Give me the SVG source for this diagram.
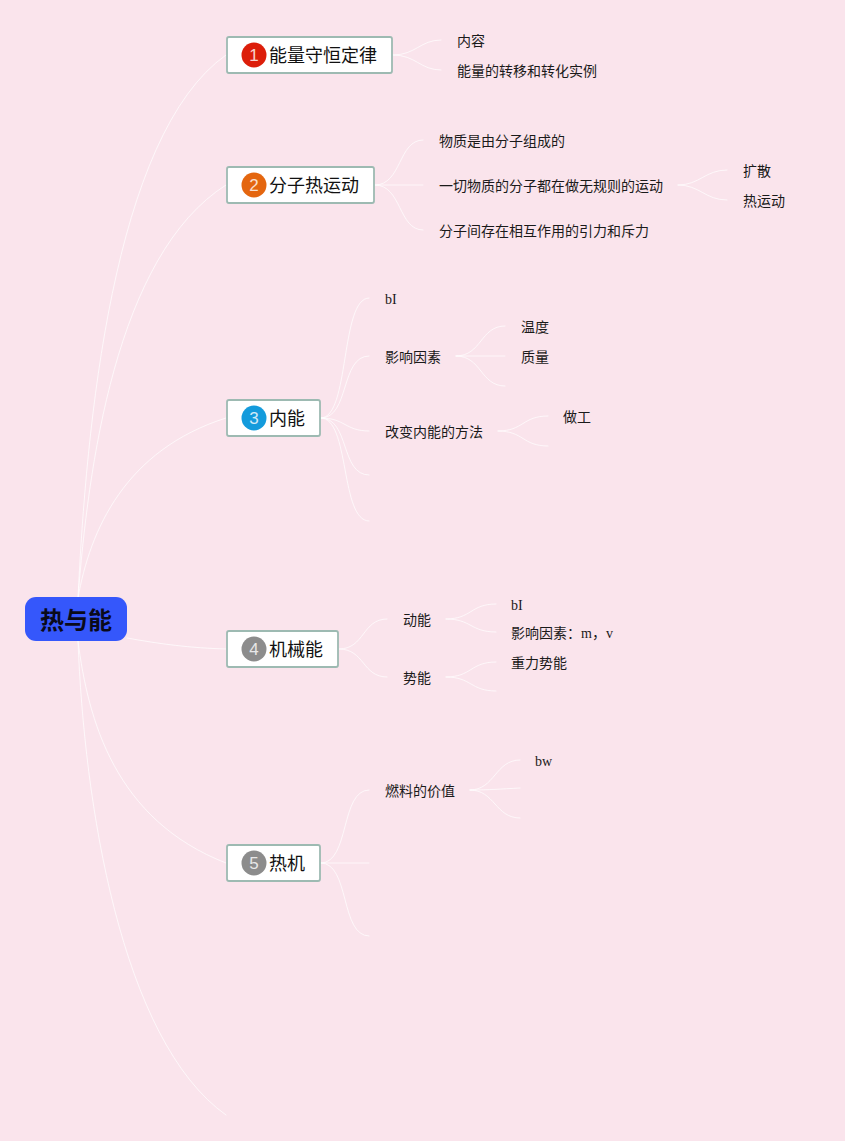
<svg xmlns="http://www.w3.org/2000/svg" width="845" height="1141" viewBox="0 0 845 1141">
<style>
.bg{fill:#fae4ec}
.c{fill:none;stroke:#fff;stroke-width:1;stroke-linecap:round;opacity:.7}
.box{fill:#fff;stroke:#9dbab2;stroke-width:1.8}
.t{font-family:"Liberation Serif","Noto Sans CJK SC",serif;font-size:14px;fill:#1a1a1a}
.m{font-family:"Liberation Sans","Noto Sans CJK SC",sans-serif;font-size:18px;fill:#111}
.n{font-family:"Liberation Sans","Noto Sans CJK SC",sans-serif;font-size:17px;fill:#fff;text-anchor:middle;opacity:.8}
.r{font-family:"Noto Sans CJK SC",sans-serif;font-size:24px;font-weight:700;fill:#0a0a1a;text-anchor:middle}
</style>
<rect class="bg" width="845" height="1141"/>
<g id="connectors">
<path class="c" d="M78 598C86 430 112 135 226 55"/>
<path class="c" d="M78 598C88 470 115 255 226 185"/>
<path class="c" d="M78 598C90 530 125 450 226 418"/>
<path class="c" d="M127 638C160 644 190 648 226 649"/>
<path class="c" d="M78 641C88 720 115 820 226 863"/>
<path class="c" d="M78 641C84 800 120 1040 226 1115"/>
<path class="c" d="M393 55C416 55 420 40 441 40"/>
<path class="c" d="M393 55C416 55 420 70 441 70"/>
<path class="c" d="M375 185C402 185 398 140 423 140"/>
<path class="c" d="M375 185H423"/>
<path class="c" d="M375 185C402 185 398 230 423 230"/>
<path class="c" d="M678 185C700 185 705 170 727 170"/>
<path class="c" d="M678 185C700 185 705 200 727 200"/>
<path class="c" d="M321 418C350 418 340 298 369 298"/>
<path class="c" d="M321 418C350 418 340 356 369 356"/>
<path class="c" d="M321 418C345 418 345 431 369 431"/>
<path class="c" d="M321 418C350 418 340 475 369 475"/>
<path class="c" d="M321 418C350 418 340 521 369 521"/>
<path class="c" d="M456 356C482 356 480 326 505 326"/>
<path class="c" d="M456 356H505"/>
<path class="c" d="M456 356C482 356 480 386 505 386"/>
<path class="c" d="M498 431C524 431 522 416 548 416"/>
<path class="c" d="M498 431C524 431 522 446 548 446"/>
<path class="c" d="M339 649C365 649 362 619 387 619"/>
<path class="c" d="M339 649C365 649 362 677 387 677"/>
<path class="c" d="M446 619C472 619 470 604 496 604"/>
<path class="c" d="M446 619C472 619 470 632 496 632"/>
<path class="c" d="M446 677C472 677 470 662 496 662"/>
<path class="c" d="M446 677C472 677 470 691 496 691"/>
<path class="c" d="M321 863C350 863 340 790 369 790"/>
<path class="c" d="M321 863H369"/>
<path class="c" d="M321 863C350 863 340 936 369 936"/>
<path class="c" d="M470 790C495 790 495 760 520 760"/>
<path class="c" d="M470 790C490 790 500 789 520 788"/>
<path class="c" d="M470 790C495 790 495 818 520 818"/>
</g>
<g id="root"><rect x="25" y="597" width="102" height="44" rx="11" fill="#3557fb"/><text class="r" x="76" y="629">热与能</text></g>
<g id="n1"><rect class="box" x="227" y="37" width="165" height="36" rx="2"/><circle cx="254" cy="55" r="12.5" fill="#dc1e0a"/><text class="n" x="254" y="61">1</text><text class="m" x="269" y="62">能量守恒定律</text></g>
<g id="n2"><rect class="box" x="227" y="167" width="147" height="36" rx="2"/><circle cx="254" cy="185" r="12.5" fill="#e4660f"/><text class="n" x="254" y="191">2</text><text class="m" x="269" y="192">分子热运动</text></g>
<g id="n3"><rect class="box" x="227" y="400" width="93" height="36" rx="2"/><circle cx="254" cy="418" r="12.5" fill="#149bdc"/><text class="n" x="254" y="424">3</text><text class="m" x="269" y="425">内能</text></g>
<g id="n4"><rect class="box" x="227" y="631" width="111" height="36" rx="2"/><circle cx="254" cy="649" r="12.5" fill="#8c8c8c"/><text class="n" x="254" y="655">4</text><text class="m" x="269" y="656">机械能</text></g>
<g id="n5"><rect class="box" x="227" y="845" width="93" height="36" rx="2"/><circle cx="254" cy="863" r="12.5" fill="#8c8c8c"/><text class="n" x="254" y="869">5</text><text class="m" x="269" y="870">热机</text></g>
<g id="labels">
<text class="t" x="457" y="46">内容</text>
<text class="t" x="457" y="76">能量的转移和转化实例</text>
<text class="t" x="439" y="146">物质是由分子组成的</text>
<text class="t" x="439" y="191">一切物质的分子都在做无规则的运动</text>
<text class="t" x="439" y="236">分子间存在相互作用的引力和斥力</text>
<text class="t" x="743" y="176">扩散</text>
<text class="t" x="743" y="206">热运动</text>
<text class="t" x="385" y="304">bI</text>
<text class="t" x="385" y="362">影响因素</text>
<text class="t" x="521" y="332">温度</text>
<text class="t" x="521" y="362">质量</text>
<text class="t" x="385" y="437">改变内能的方法</text>
<text class="t" x="563" y="422">做工</text>
<text class="t" x="403" y="625">动能</text>
<text class="t" x="403" y="683">势能</text>
<text class="t" x="511" y="610">bI</text>
<text class="t" x="511" y="638">影响因素：m，v</text>
<text class="t" x="511" y="668">重力势能</text>
<text class="t" x="385" y="796">燃料的价值</text>
<text class="t" x="535" y="766">bw</text>
</g>
</svg>
